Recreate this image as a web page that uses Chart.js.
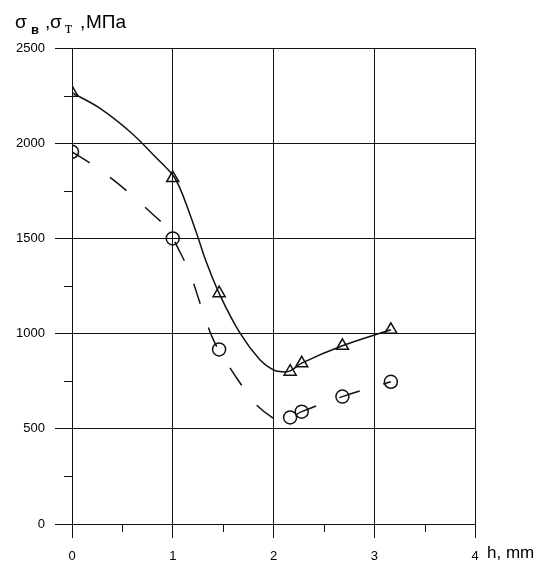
<!DOCTYPE html>
<html>
<head>
<meta charset="utf-8">
<script src="https://cdn.jsdelivr.net/npm/chart.js@4.4.0/dist/chart.umd.min.js"></script>
<style>
  html, body { margin: 0; padding: 0; background: #fff; }
  #wrap { width: 550px; height: 563px; }
</style>
</head>
<body>
<div id="wrap"><canvas id="chart" width="550" height="563"></canvas></div>
<script>
var hPoints = [0, 1, 1.46, 2.165, 2.28, 2.684, 3.165];
var sigmaB  = [2265, 1817, 1212, 800, 844, 936, 1020];   // triangles
var sigmaT  = [1955, 1500, 917, 560, 590, 669, 747];     // circles

// ---- fitted curves ---------------------------------------------------------
var curveBX = [0, 0.278, 0.576, 0.841, 1.0, 1.072, 1.155, 1.254, 1.32, 1.46, 1.668, 1.867, 2.0, 2.1, 2.165, 2.28, 2.684, 3.165];
var curveBY = [2265, 2183, 2060, 1921, 1833, 1763, 1649, 1500, 1395, 1212, 1002, 861, 809, 799, 804, 845, 936, 1020];
var curveTX = [0, 0.21, 0.41, 0.59, 0.79, 0.94, 1.07, 1.17, 1.25, 1.32, 1.42, 1.52, 1.67, 1.8, 2.0, 2.07, 2.165, 2.28, 2.684, 3.165];
var curveTY = [1955, 1885, 1807, 1728, 1632, 1553, 1430, 1317, 1194, 1080, 949, 861, 739, 642, 555, 549, 558, 590, 669, 747];

// ---- axes ------------------------------------------------------------------
var xMinor = [0.5, 1.5, 2.5, 3.5];
var yMinor = [250, 750, 1250, 1750, 2250];
var xTitle = 'h, mm';

var ink = '#111';
var sans = '"Liberation Sans", Arial, sans-serif';
var serif = '"Liberation Serif", "Times New Roman", serif';
var labelFont = { family: sans, size: 13 };

function toXY(xs, ys) {
    return xs.map(function (x, i) { return { x: x, y: ys[i] }; });
}

// minor ticks + axis titles ---------------------------------------------------
const extras = {
    id: 'extras',
    afterDraw(chart) {
        const ctx = chart.ctx, xs = chart.scales.x, ys = chart.scales.y, area = chart.chartArea;
        ctx.save();
        ctx.strokeStyle = ink;
        ctx.lineWidth = 1;
        ctx.beginPath();
        yMinor.forEach(function (v) {
            const py = Math.round(ys.getPixelForValue(v)) + 0.5;
            ctx.moveTo(area.left - 8, py);
            ctx.lineTo(area.left, py);
        });
        xMinor.forEach(function (v) {
            const px = Math.round(xs.getPixelForValue(v)) + 0.5;
            ctx.moveTo(px, area.bottom);
            ctx.lineTo(px, area.bottom + 8);
        });
        ctx.stroke();

        ctx.fillStyle = '#000';
        ctx.textBaseline = 'alphabetic';
        ctx.textAlign = 'left';

        // x title
        ctx.font = '17px ' + sans;
        ctx.fillText(xTitle, area.right + 12, area.bottom + 34);

        // y title: σв ,σт ,МПа
        var parts = [
            { t: 'σ',   f: '19px ' + sans,        x: 15, y: 28 },
            { t: 'в',   f: 'bold 13px ' + sans,   x: 31, y: 34 },
            { t: ',',   f: '19px ' + sans,        x: 45, y: 28 },
            { t: 'σ',   f: '19px ' + sans,        x: 50, y: 28 },
            { t: 'т',   f: '16px ' + serif,       x: 65, y: 33 },
            { t: ',',   f: '19px ' + sans,        x: 80, y: 28 },
            { t: 'МПа', f: '19px ' + sans,        x: 86, y: 28 }
        ];
        parts.forEach(function (p) {
            ctx.font = p.f;
            ctx.fillText(p.t, p.x, p.y);
        });
        ctx.restore();
    }
};

new Chart(document.getElementById('chart'), {
    type: 'scatter',
    data: {
        datasets: [
            {
                data: toXY(curveBX, curveBY),
                showLine: true,
                borderColor: ink,
                borderWidth: 1.5,
                pointRadius: 0,
                tension: 0.4
            },
            {
                data: toXY(curveTX, curveTY),
                showLine: true,
                borderColor: ink,
                borderWidth: 1.5,
                borderDash: [21, 25],
                pointRadius: 0,
                tension: 0.4
            },
            {
                data: toXY(hPoints, sigmaB),
                pointStyle: 'triangle',
                pointRadius: 7,
                borderColor: ink,
                borderWidth: 1.5,
                backgroundColor: 'rgba(0,0,0,0)'
            },
            {
                data: toXY(hPoints, sigmaT),
                pointStyle: 'circle',
                pointRadius: 6.5,
                borderColor: ink,
                borderWidth: 1.5,
                backgroundColor: 'rgba(0,0,0,0)'
            }
        ]
    },
    options: {
        responsive: false,
        animation: false,
        layout: { padding: { top: 48, right: 75, left: 0, bottom: 0 } },
        plugins: {
            legend: { display: false },
            tooltip: { enabled: false }
        },
        scales: {
            x: {
                type: 'linear',
                min: 0,
                max: 4,
                afterFit: function (s) { s.height = 39; },
                ticks: { stepSize: 1, color: '#000', font: labelFont, padding: 11, maxRotation: 0,
                         callback: function (v) { return String(v); } },
                grid: { color: ink, tickLength: 14, lineWidth: 1 },
                border: { color: ink }
            },
            y: {
                min: 0,
                max: 2500,
                afterFit: function (s) { s.width = 72; },
                ticks: { stepSize: 500, color: '#000', font: labelFont, padding: 10,
                         callback: function (v) { return String(v); } },
                grid: { color: ink, tickLength: 17, lineWidth: 1 },
                border: { color: ink }
            }
        }
    },
    plugins: [extras]
});
</script>
</body>
</html>
